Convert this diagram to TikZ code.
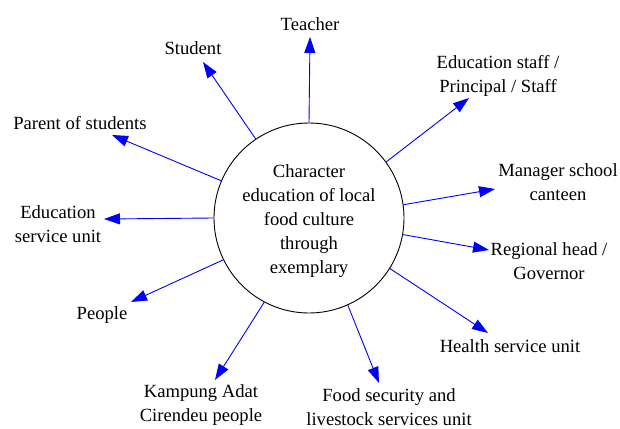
\documentclass[tikz,border=0pt]{standalone}
\usepackage{fontspec}
\setmainfont{Liberation Serif}
\usetikzlibrary{arrows.meta}

\begin{document}
\begin{tikzpicture}[x=1pt,y=-1pt,font=\fontsize{18.6}{24}\selectfont]
\tikzset{C/.style={circle,draw,line width=0.9pt,minimum size=190pt,inner sep=0},
L/.style={align=center,inner sep=0},
A/.style={draw=blue,line width=0.9pt,-{Triangle[length=16pt,width=11pt]}}
}

\useasboundingbox (0,0) rectangle (620,428);

% The centre
\node(c)[C] at (309,218) {};
\node(ctext)[L] at (309,221) {Character\\education of local\\food culture\\through\\exemplary};

% Actors around it
\node(teacher)[L] at (310,24) {Teacher};
\node(student)[L] at (193,48) {Student};
\node(staff)[L] at (498,76) {Education staff /\\Principal / Staff};
\node(canteen)[L] at (558,182) {Manager school\\canteen};
\node(governor)[L] at (549,261) {Regional head /\\Governor};
\node(health)[L] at (510,346) {Health service unit};
\node(food)[L] at (389,407) {Food security and\\livestock services unit};
\node(kampung)[L] at (201,405) {Kampung Adat\\Cirendeu people};
\node(people)[L] at (102,315) {People};
\node(service)[L] at (58,224) {Education\\service unit};
\node(parent)[L] at (80,123) {Parent of students};

% arrow tips
\coordinate(t1) at (310,37);
\coordinate(t2) at (203,62);
\coordinate(t3) at (469,98);
\coordinate(t4) at (495,189);
\coordinate(t5) at (489,250);
\coordinate(t6) at (488,333);
\coordinate(t7) at (379,383);
\coordinate(t8) at (215,380);
\coordinate(t9) at (131,302);
\coordinate(t10) at (104,219);
\coordinate(t11) at (112,135);

% arrows
\draw[A] (c.90) -- (t1);
\draw[A] (c.124.7) -- (t2);
\draw[A] (c.36.2) -- (t3);
\draw[A] (c.8.4) -- (t4);
\draw[A] (c.-10.3) -- (t5);
\draw[A] (c.-32.2) -- (t6);
\draw[A] (c.-66.6) -- (t7);
\draw[A] (c.-118.7) -- (t8);
\draw[A] (c.-154.2) -- (t9);
\draw[A] (c.180) -- (t10);
\draw[A] (c.157) -- (t11);

\end{tikzpicture}
\end{document}
